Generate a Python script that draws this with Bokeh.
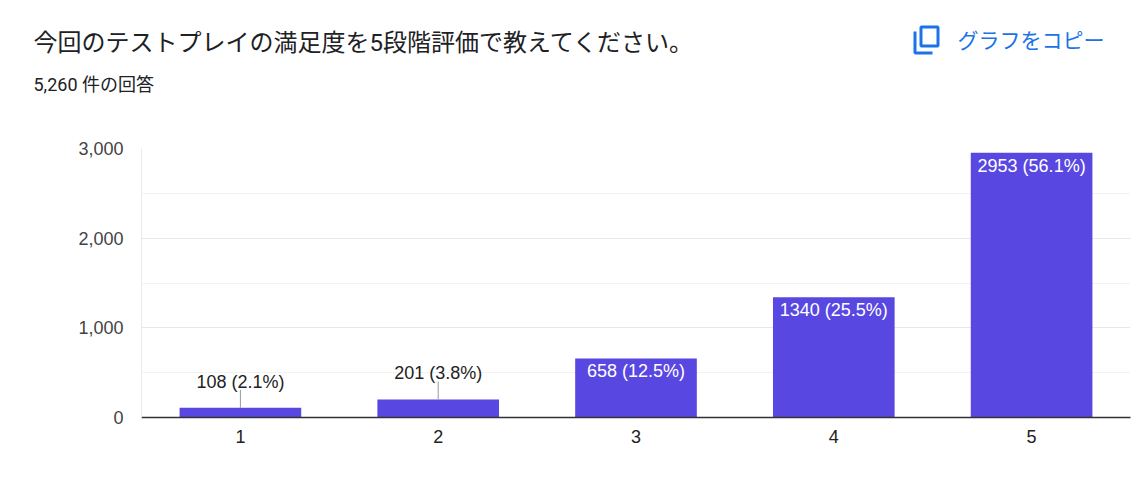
from bokeh.plotting import figure
from bokeh.models import Range1d, FixedTicker, NumeralTickFormatter, ColumnDataSource
from bokeh.layouts import column
from bokeh.core.properties import value
from bokeh.embed import file_html
from bokeh.resources import INLINE

# ---- data ----
title_text = "今回のテストプレイの満足度を5段階評価で教えてください。"
subtitle_text = "5,260 件の回答"
copy_text = "グラフをコピー"
categories = ["1", "2", "3", "4", "5"]
counts = [108, 201, 658, 1340, 2953]
percents = [2.1, 3.8, 12.5, 25.5, 56.1]
y_ticks = [0, 1000, 2000, 3000]
y_minor = [500, 1500, 2500]

BAR = "#5847e0"
BLUE = "#1a73e8"
CJK = value("Roboto, Noto Sans CJK JP, sans-serif")
ARIAL = value("Liberation Sans, Arial, sans-serif")

W, H = 1137, 471
HEAD_H = 112
FL, FR, FT, FB = 141, 1130, 148, 417   # frame edges in page pixels
YMAX = 3000
n = len(categories)

# ---- header (pixel coordinates) ----
h = figure(width=W, height=HEAD_H, x_range=Range1d(0, W), y_range=Range1d(HEAD_H, 0),
           x_axis_type=None, y_axis_type=None, toolbar_location=None,
           output_backend="svg", min_border=0)
h.frame_align = False
h.grid.visible = False
h.outline_line_color = None
h.text(x=[33], y=[42.5], text=[title_text], text_font=CJK, text_font_size="24px",
       text_color="#202124", text_baseline="middle", text_align="left")
h.text(x=[33], y=[84], text=[subtitle_text], text_font=CJK, text_font_size="18px",
       text_color="#202124", text_baseline="middle", text_align="left")
h.text(x=[957], y=[40], text=[copy_text], text_font=CJK, text_font_size="21px",
       text_color=BLUE, text_baseline="middle", text_align="left")
# copy icon
h.line(x=[914.5, 914.5, 932], y=[31, 52.5, 52.5], line_color=BLUE, line_width=3)
h.rect(x=[929], y=[36], width=[17], height=[19], fill_color=None,
       line_color=BLUE, line_width=3)

# ---- chart ----
CH = H - HEAD_H
p = figure(width=W, height=CH, x_range=Range1d(0.5, n + 0.5), y_range=Range1d(0, YMAX),
           toolbar_location=None, output_backend="svg",
           min_border_left=FL, min_border_right=W - FR,
           min_border_top=FT - HEAD_H, min_border_bottom=H - FB)
p.frame_align = False
p.outline_line_color = None
p.background_fill_color = "white"
p.border_fill_color = "white"

upp = YMAX / (FB - FT)       # y data units per pixel
xs = list(range(1, n + 1))
p.vbar(x=xs, top=counts, width=0.615, fill_color=BAR, line_color=None)

labels = [f"{c} ({pc}%)" for c, pc in zip(counts, percents)]
inside = [c / upp > 30 for c in counts]

src_in = ColumnDataSource(dict(x=[x for x, i in zip(xs, inside) if i],
                               y=[c for c, i in zip(counts, inside) if i],
                               t=[l for l, i in zip(labels, inside) if i]))
src_out = ColumnDataSource(dict(x=[x for x, i in zip(xs, inside) if not i],
                                y=[c for c, i in zip(counts, inside) if not i],
                                y1=[c + 18 * upp for c, i in zip(counts, inside) if not i],
                                yt=[c + 26 * upp for c, i in zip(counts, inside) if not i],
                                t=[l for l, i in zip(labels, inside) if not i]))

p.text(x="x", y="y", text="t", source=src_in, y_offset=13, text_align="center",
       text_baseline="middle", text_color="white", text_font=ARIAL, text_font_size="18px")
p.segment(x0="x", y0="y", x1="x", y1="y1", source=src_out, line_color="#999999", line_width=1)
p.text(x="x", y="yt", text="t", source=src_out, text_align="center",
       text_baseline="middle", text_color="#222222", text_font=ARIAL, text_font_size="18px")

# ---- axes ----
p.xaxis.ticker = FixedTicker(ticks=xs)
p.xaxis.major_label_overrides = {x: c for x, c in zip(xs, categories)}
p.xaxis.axis_line_color = "#333333"
p.xaxis.axis_line_width = 1.5
p.xaxis.major_tick_line_color = None
p.xaxis.minor_tick_line_color = None
p.xaxis.major_tick_out = 0
p.xaxis.minor_tick_out = 0
p.xaxis.major_label_standoff = 12
p.xaxis.major_label_text_font = "Liberation Sans"
p.xaxis.major_label_text_font_size = "18px"
p.xaxis.major_label_text_color = "#222222"

p.yaxis.ticker = FixedTicker(ticks=y_ticks, minor_ticks=y_minor)
p.yaxis.formatter = NumeralTickFormatter(format="0,0")
p.yaxis.axis_line_color = "#ebebeb"
p.yaxis.major_tick_line_color = None
p.yaxis.minor_tick_line_color = None
p.yaxis.major_tick_out = 0
p.yaxis.minor_tick_out = 0
p.yaxis.major_label_standoff = 18
p.yaxis.major_label_text_font = "Liberation Sans"
p.yaxis.major_label_text_font_size = "18px"
p.yaxis.major_label_text_color = "#444444"

p.xgrid.grid_line_color = None
p.ygrid.grid_line_color = "#e8e8e8"
p.ygrid.minor_grid_line_color = "#f2f2f2"

layout = column(h, p, spacing=0)
open("out.html", "w").write(file_html(layout, INLINE))
